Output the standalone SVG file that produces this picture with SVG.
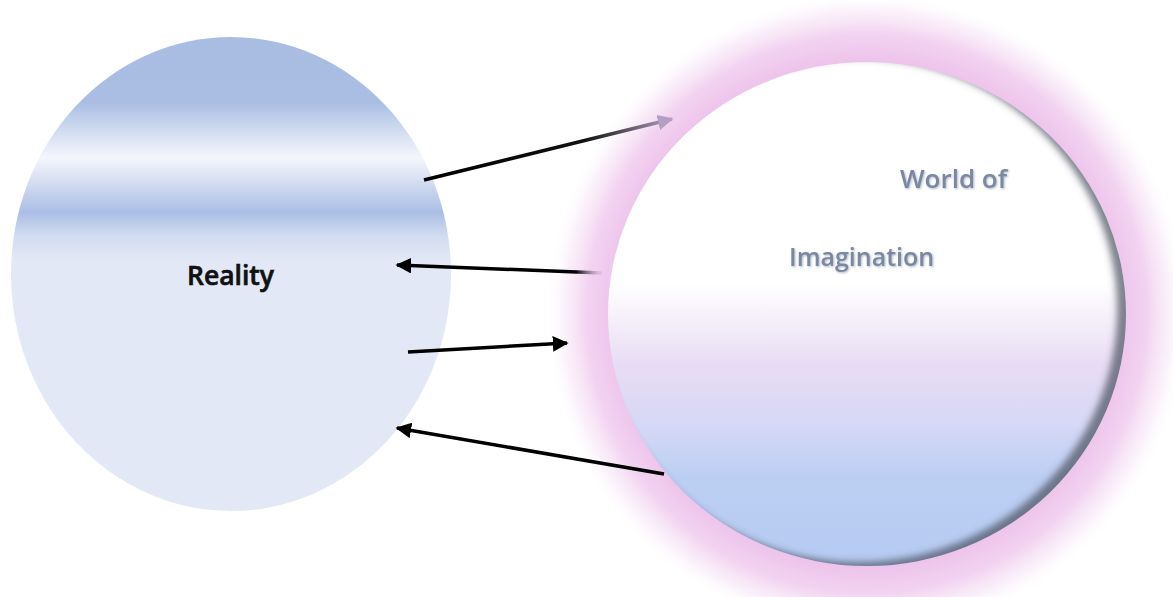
<svg xmlns="http://www.w3.org/2000/svg" width="1173" height="597" viewBox="0 0 1173 597">
<defs>
<style>
.lbl{font-family:"Open Sans","Liberation Sans",sans-serif;font-weight:600;font-size:25px}
.conn{fill:none;stroke-width:3.5}
</style>
<linearGradient id="gLeft" gradientUnits="userSpaceOnUse" x1="0" y1="37" x2="0" y2="511">
<stop offset="0" stop-color="#a9bde3"/>
<stop offset="0.14" stop-color="#aabee4"/>
<stop offset="0.2" stop-color="#d3ddf1"/>
<stop offset="0.255" stop-color="#f4f6fc"/>
<stop offset="0.3" stop-color="#d8e0f2"/>
<stop offset="0.37" stop-color="#aabee5"/>
<stop offset="0.42" stop-color="#d2dcf1"/>
<stop offset="0.47" stop-color="#e2e8f5"/>
<stop offset="1" stop-color="#e2e8f5"/>
</linearGradient>
<linearGradient id="gRight" gradientUnits="userSpaceOnUse" x1="0" y1="62" x2="0" y2="566">
<stop offset="0" stop-color="#ffffff"/>
<stop offset="0.44" stop-color="#ffffff"/>
<stop offset="0.6" stop-color="#e8dcf4"/>
<stop offset="0.72" stop-color="#d6d8f6"/>
<stop offset="0.82" stop-color="#bccff3"/>
<stop offset="1" stop-color="#b6cbf2"/>
</linearGradient>
<radialGradient id="gGlow" cx="867" cy="314" r="322" gradientUnits="userSpaceOnUse">
<stop offset="0.78" stop-color="#edc2eb" stop-opacity="1"/>
<stop offset="0.87" stop-color="#f0cbee" stop-opacity="0.85"/>
<stop offset="0.94" stop-color="#f6e2f5" stop-opacity="0.5"/>
<stop offset="1" stop-color="#ffffff" stop-opacity="0"/>
</radialGradient>
<linearGradient id="gA1" gradientUnits="userSpaceOnUse" x1="424" y1="180" x2="672" y2="119">
<stop offset="0" stop-color="#000"/>
<stop offset="0.65" stop-color="#111"/>
<stop offset="1" stop-color="#b49fc4"/>
</linearGradient>
<linearGradient id="gA2" gradientUnits="userSpaceOnUse" x1="600" y1="273" x2="400" y2="265">
<stop offset="0" stop-color="#c8a8d0" stop-opacity="0.4"/>
<stop offset="0.12" stop-color="#000"/>
<stop offset="1" stop-color="#000"/>
</linearGradient>
<filter id="sblur" x="-10%" y="-10%" width="120%" height="120%">
<feGaussianBlur stdDeviation="3.5"/>
</filter>
<filter id="tshadow" x="-10%" y="-30%" width="120%" height="160%">
<feDropShadow dx="1" dy="1" stdDeviation="0.8" flood-color="#9aa6bd" flood-opacity="0.8"/>
</filter>
<clipPath id="cR"><ellipse cx="867" cy="314" rx="259" ry="252"/></clipPath>
<marker id="ah" viewBox="0 0 10 10" refX="9" refY="5" markerWidth="4.5" markerHeight="4.5" orient="auto" markerUnits="strokeWidth">
<path d="M0,0 L10,5 L0,10 z" fill="#000"/>
</marker>
<marker id="ahp" viewBox="0 0 10 10" refX="9" refY="5" markerWidth="4.5" markerHeight="4.5" orient="auto" markerUnits="strokeWidth">
<path d="M0,0 L10,5 L0,10 z" fill="#b49fc4"/>
</marker>
</defs>
<rect width="1173" height="597" fill="#ffffff"/>
<g id="node-imagination">
<ellipse cx="867" cy="314" rx="322" ry="316" fill="url(#gGlow)"/>
<ellipse cx="867" cy="314" rx="259" ry="252" fill="url(#gRight)"/>
<g clip-path="url(#cR)">
<path fill-rule="evenodd" fill="#4a4f5e" fill-opacity="0.7" filter="url(#sblur)" d="M560,0 H1180 V620 H560 Z M602,314 a259,252 0 1,0 518,0 a259,252 0 1,0 -518,0 Z" transform="translate(-3,-4)"/>
</g>
<text class="lbl" x="900" y="188" fill="#7b88a2" filter="url(#tshadow)" style="font-size:26px">World of</text>
<text class="lbl" x="789" y="266" fill="#7b88a2" filter="url(#tshadow)">Imagination</text>
</g>
<g id="node-reality">
<ellipse cx="231" cy="274" rx="220" ry="237" fill="url(#gLeft)"/>
<text class="lbl" x="187" y="285" fill="#111" stroke="#000" stroke-width="0.6" style="paint-order:stroke;font-size:26.5px">Reality</text>
</g>
<g id="connectors">
<line class="conn" x1="424" y1="180" x2="672" y2="119" stroke="url(#gA1)" marker-end="url(#ahp)"/>
<line class="conn" x1="602" y1="273" x2="397" y2="265" stroke="url(#gA2)" marker-end="url(#ah)"/>
<line class="conn" x1="408" y1="352" x2="567" y2="343" stroke="#000" marker-end="url(#ah)"/>
<line class="conn" x1="664" y1="474" x2="397" y2="428" stroke="#000" marker-end="url(#ah)"/>
</g>
</svg>
